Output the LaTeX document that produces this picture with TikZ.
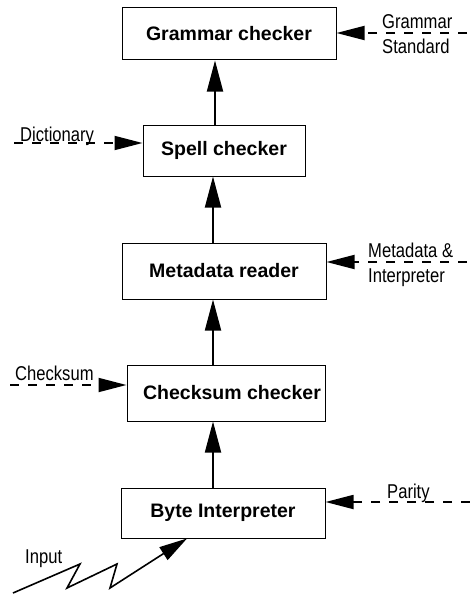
\documentclass[tikz,border=0pt]{standalone}
\usepackage{fontspec}
\setmainfont{Liberation Sans}
\newfontfamily\narrowfont[FakeStretch=0.83]{Liberation Sans}
\usetikzlibrary{arrows.meta}

\begin{document}
\begin{tikzpicture}[x=1pt,y=-1pt,
  box/.style={draw, line width=1pt, inner sep=0pt,
    font=\fontsize{19.5}{22}\selectfont\bfseries},
  flow/.style={line width=1.8pt, -{Triangle[length=31pt,width=16pt]}},
  feed/.style={line width=1.8pt, -{Triangle[length=28pt,width=14pt]},
    dash pattern=on 9pt off 9pt},
  side/.style={font=\narrowfont\fontsize{20}{22}\selectfont,
    inner sep=0pt, anchor=base west},
]
\useasboundingbox (0,0) rectangle (470,594);

% processing stages
\node[box, minimum width=214pt, minimum height=52pt] (grammar) at (229,34) {Grammar checker};
\node[box, minimum width=162pt, minimum height=51pt] (spell) at (224,150.5) {Spell checker};
\node[box, minimum width=204pt, minimum height=56pt] (meta) at (224,271) {Metadata reader};
\node[box, minimum width=198pt, minimum height=56pt] (checksum) at (226,393) {\hspace{12pt}Checksum checker};
\node[box, minimum width=204pt, minimum height=50pt] (byte) at (223,513) {Byte Interpreter};

% main upward flow
\coordinate (spine) at (213,0);
\draw[flow] (byte.north -| spine) -- (checksum.south -| spine);
\draw[flow] (checksum.north -| spine) -- (meta.south -| spine);
\draw[flow] (meta.north -| spine) -- (spell.south -| spine);
\coordinate (spine2) at (215,0);
\draw[flow] (spell.north -| spine2) -- (grammar.south -| spine2);

% side inputs
\coordinate (gsrc) at (467,33);
\draw[feed] (gsrc) -- (gsrc -| grammar.east);
\node[side] (glab1) at (382,29) {Grammar};
\node[side] (glab2) at (382,53) {Standard};

\coordinate (dsrc) at (14,143);
\draw[feed] (dsrc) -- (dsrc -| spell.west);
\node[side] (dlab) at (20,141) {Dictionary};

\coordinate (msrc) at (467,262);
\draw[feed] (msrc) -- (msrc -| meta.east);
\node[side] (mlab1) at (368,257) {Metadata \&};
\node[side] (mlab2) at (368,282) {Interpreter};

\coordinate (csrc) at (10,385);
\draw[feed] (csrc) -- (csrc -| checksum.west);
\node[side] (clab) at (15,380) {Checksum};

\coordinate (psrc) at (470,502);
\draw[feed] (psrc) -- (psrc -| byte.east);
\node[side] (plab) at (387,498) {Parity};

% raw input, drawn as a lightning zigzag
\coordinate (insrc) at (13,593);
\path (byte.south) ++(-36,0) coordinate (intip);
\draw[line width=1.6pt, miter limit=4, -{Triangle[length=28pt,width=15pt]}]
  (insrc) -- (80,564) -- (67,588) -- (117,564) -- (110,588) -- (intip);
\node[side] (ilab) at (25,563) {Input};
\end{tikzpicture}
\end{document}
